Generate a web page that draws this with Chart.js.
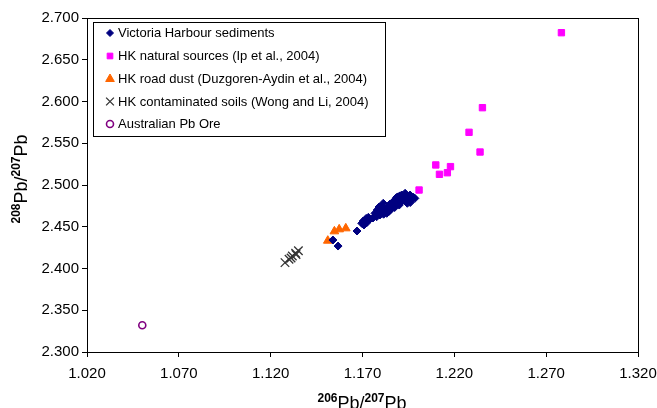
<!DOCTYPE html>
<html>
<head>
<meta charset="utf-8">
<script src="https://cdn.jsdelivr.net/npm/chart.js@4/dist/chart.umd.min.js"></script>
<style>
  html, body { margin: 0; padding: 0; background: #fff; }
  #wrap { width: 657px; height: 408px; position: relative; }
</style>
</head>
<body>
<div id="wrap"><canvas id="chart"></canvas></div>
<script>
// --- DATA ---
const seriesLabels = [
  'Victoria Harbour sediments',
  'HK natural sources (Ip et al., 2004)',
  'HK road dust (Duzgoren-Aydin et al., 2004)',
  'HK contaminated soils (Wong and Li, 2004)',
  'Australian Pb Ore'
];

const harbourX = [1.1539, 1.1567, 1.1670, 1.1696, 1.1714, 1.1732, 1.1704, 1.1723, 1.1741, 1.1708,
  1.1768, 1.1786, 1.1805, 1.1795, 1.1823, 1.1841, 1.1813, 1.1859, 1.1832, 1.1777, 1.1757, 1.1812, 1.1850, 1.1790,
  1.1877, 1.1895, 1.1914, 1.1932, 1.1950, 1.1968, 1.1922, 1.1904, 1.1941, 1.1883, 1.1861, 1.1959, 1.1977, 1.1944, 1.1915, 1.1899,
  1.1885, 1.1870, 1.1930, 1.1960, 1.1830, 1.1800, 1.1780, 1.1850, 1.1985, 1.1905,
  1.1960, 1.1900, 1.1845, 1.1815, 1.1875, 1.1720, 1.1935];
const harbourY = [2.4341, 2.4269, 2.4449, 2.4541, 2.4581, 2.4613, 2.4569, 2.4548, 2.4593, 2.4521,
  2.4661, 2.4701, 2.4740, 2.4641, 2.4701, 2.4740, 2.4781, 2.4721, 2.4661, 2.4620, 2.4605, 2.4676, 2.4772, 2.4736,
  2.4820, 2.4860, 2.4880, 2.4901, 2.4860, 2.4829, 2.4820, 2.4781, 2.4800, 2.4760, 2.4788, 2.4880, 2.4853, 2.4781, 2.4844, 2.4814,
  2.4850, 2.4790, 2.4840, 2.4815, 2.4720, 2.4680, 2.4700, 2.4700, 2.4840, 2.4870,
  2.4790, 2.4760, 2.4685, 2.4650, 2.4730, 2.4600, 2.4885];

const naturalX = [1.2783, 1.2353, 1.2280, 1.2340, 1.2099, 1.2179, 1.2119, 1.2162, 1.2008];
const naturalY = [2.6824, 2.5926, 2.5631, 2.5395, 2.5240, 2.5220, 2.5128, 2.5147, 2.4940];

const dustX = [1.1609, 1.1573, 1.1547, 1.1511];
const dustY = [2.4481, 2.4469, 2.4445, 2.4333];

const soilX = [1.1278, 1.1300, 1.1311, 1.1318, 1.1336, 1.1338, 1.1351];
const soilY = [2.4070, 2.4110, 2.4126, 2.4150, 2.4182, 2.4167, 2.4213];

const oreX = [1.0501];
const oreY = [2.3320];

const xMin = 1.020, xMax = 1.320, xStep = 0.05;
const yMin = 2.300, yMax = 2.700, yStep = 0.05;

const FONT = "'Liberation Sans', Arial, sans-serif";

function pts(xs, ys) { return xs.map((x, i) => ({ x: x, y: ys[i] })); }

// --- PLUGINS: frame, legend box, axis titles with superscripts ---
const framePlugin = {
  id: 'frame',
  afterDraw(chart) {
    const { ctx, chartArea: a } = chart;
    ctx.save();
    ctx.strokeStyle = '#000';
    ctx.lineWidth = 1;
    ctx.strokeRect(Math.round(a.left) + 0.5, Math.round(a.top) + 0.5, Math.round(a.right - a.left), Math.round(a.bottom - a.top));
    ctx.restore();
  }
};

const legendBoxPlugin = {
  id: 'legendBox',
  afterDraw(chart) {
    const ctx = chart.ctx;
    const box = { x: 93, y: 22, w: 292, h: 114 };
    ctx.save();
    ctx.fillStyle = '#fff';
    ctx.fillRect(box.x, box.y, box.w, box.h);
    ctx.strokeStyle = '#000';
    ctx.lineWidth = 1;
    ctx.strokeRect(box.x + 0.5, box.y + 0.5, box.w, box.h);
    const rowY = [33, 56, 79, 101.5, 124];
    const legendRadius = [3.5, 4, 5, 5.5, 3.5];
    chart.data.datasets.forEach((ds, i) => {
      const y = rowY[i];
      ctx.fillStyle = ds.backgroundColor;
      ctx.strokeStyle = ds.borderColor;
      ctx.lineWidth = ds.borderWidth;
      Chart.helpers.drawPoint(ctx, { pointStyle: ds.pointStyle, radius: legendRadius[i], rotation: 0, borderWidth: ds.borderWidth }, 110, y);
      ctx.fillStyle = '#000';
      ctx.font = '13px ' + FONT;
      ctx.textBaseline = 'middle';
      ctx.textAlign = 'left';
      ctx.fillText(ds.label, 118, y + 0.5);
    });
    ctx.restore();
  }
};

function drawSupTitle(ctx, parts, cx, cy) {
  const big = '18px ' + FONT, small = 'bold 12px ' + FONT;
  let total = 0;
  parts.forEach(p => { ctx.font = p.sup ? small : big; total += ctx.measureText(p.t).width; });
  let x = cx - total / 2;
  ctx.textBaseline = 'alphabetic';
  ctx.textAlign = 'left';
  parts.forEach(p => {
    ctx.font = p.sup ? small : big;
    ctx.fillText(p.t, x, p.sup ? cy - 7 : cy);
    x += ctx.measureText(p.t).width;
  });
}

const axisTitlePlugin = {
  id: 'axisTitles',
  afterDraw(chart) {
    const ctx = chart.ctx;
    ctx.save();
    ctx.fillStyle = '#000';
    drawSupTitle(ctx, [{ t: '206', sup: true }, { t: 'Pb/' }, { t: '207', sup: true }, { t: 'Pb' }], 362, 409);
    ctx.translate(27, 179);
    ctx.rotate(-Math.PI / 2);
    drawSupTitle(ctx, [{ t: '208', sup: true }, { t: 'Pb/' }, { t: '207', sup: true }, { t: 'Pb' }], 0, 0);
    ctx.restore();
  }
};

// --- CHART ---
const ctx = document.getElementById('chart');
new Chart(ctx, {
  type: 'scatter',
  data: {
    datasets: [
      { label: seriesLabels[0], data: pts(harbourX, harbourY), pointStyle: 'rectRot', pointRadius: 4,
        backgroundColor: '#000080', borderColor: '#000080', borderWidth: 1 },
      { label: seriesLabels[1], data: pts(naturalX, naturalY), pointStyle: 'rect', pointRadius: 4.5,
        backgroundColor: '#ff00ff', borderColor: '#ff00ff', borderWidth: 1 },
      { label: seriesLabels[2], data: pts(dustX, dustY), pointStyle: 'triangle', pointRadius: 5,
        backgroundColor: '#ff6600', borderColor: '#ff6600', borderWidth: 1 },
      { label: seriesLabels[3], data: pts(soilX, soilY), pointStyle: 'crossRot', pointRadius: 6,
        backgroundColor: '#333333', borderColor: '#333333', borderWidth: 1.3 },
      { label: seriesLabels[4], data: pts(oreX, oreY), pointStyle: 'circle', pointRadius: 3.5,
        backgroundColor: '#ffffff', borderColor: '#800080', borderWidth: 1.6 }
    ]
  },
  options: {
    responsive: true,
    maintainAspectRatio: false,
    animation: false,
    layout: { padding: { left: 0, top: 18, right: 19, bottom: 0 } },
    plugins: { legend: { display: false }, tooltip: { enabled: false } },
    scales: {
      x: {
        type: 'linear', min: xMin, max: xMax,
        afterFit: (s) => { s.height = 56; s.paddingLeft = 0; s.paddingRight = 0; },
        ticks: { stepSize: xStep, autoSkip: false, maxRotation: 0, color: '#000', padding: 8,
          font: { family: FONT, size: 15 }, callback: (v) => v.toFixed(3) },
        grid: { drawOnChartArea: false, drawTicks: true, tickLength: 5, color: '#000' },
        border: { color: '#000', width: 1 }
      },
      y: {
        type: 'linear', min: yMin, max: yMax,
        afterFit: (s) => { s.width = 87; s.paddingTop = 0; s.paddingBottom = 0; },
        ticks: { stepSize: yStep, autoSkip: false, color: '#000', padding: 3,
          font: { family: FONT, size: 15 }, callback: (v) => v.toFixed(3) },
        grid: { drawOnChartArea: false, drawTicks: true, tickLength: 5, color: '#000' },
        border: { color: '#000', width: 1 }
      }
    }
  },
  plugins: [framePlugin, legendBoxPlugin, axisTitlePlugin]
});
</script>
</body>
</html>
